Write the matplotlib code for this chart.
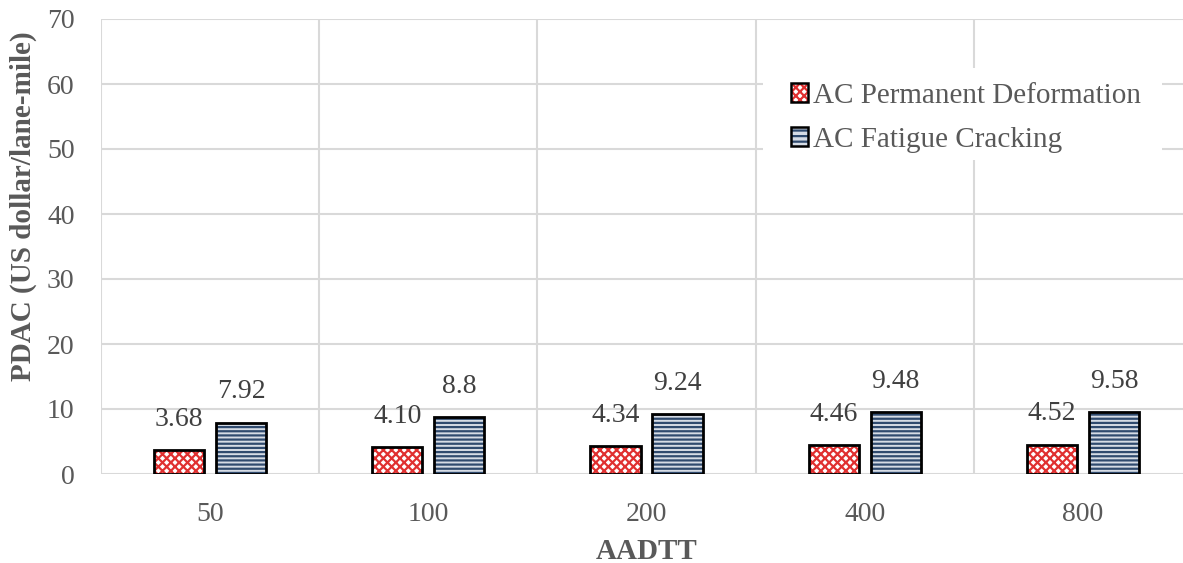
import matplotlib
matplotlib.use("Agg")
import matplotlib.pyplot as plt
import numpy as np
from matplotlib.patches import Rectangle
from matplotlib.legend_handler import HandlerBase

categories = ["50", "100", "200", "400", "800"]
perm_def = [3.68, 4.10, 4.34, 4.46, 4.52]
fatigue = [7.92, 8.8, 9.24, 9.48, 9.58]
perm_labels = ["3.68", "4.10", "4.34", "4.46", "4.52"]
fat_labels = ["7.92", "8.8", "9.24", "9.48", "9.58"]
yticks = [0, 10, 20, 30, 40, 50, 60, 70]
series_names = ['AC Permanent Deformation', 'AC Fatigue Cracking']

plt.rcParams['font.family'] = ['Liberation Serif', 'DejaVu Serif']
plt.rcParams['hatch.linewidth'] = 1.6

fig = plt.figure(figsize=(11.83, 5.63), dpi=100)
ax = fig.add_axes([101/1183, 89/563, 1091/1183, 455/563])

x = np.arange(len(categories))
w = 0.23
off = 0.142
gray = '#595959'
grid = '#d9d9d9'
red_face, red_hatch = 'white', '#e03030'
blue_face, blue_hatch = '#d6dce5', '#2f4a6e'

ax.bar(x - off, perm_def, w, color=red_face, edgecolor=red_hatch, hatch='xxxx', linewidth=0, zorder=3)
ax.bar(x - off, perm_def, w, fill=False, edgecolor='black', linewidth=2, zorder=4)
ax.bar(x + off, fatigue, w, color=blue_face, edgecolor=blue_hatch, hatch='----', linewidth=0, zorder=3)
ax.bar(x + off, fatigue, w, fill=False, edgecolor='black', linewidth=2, zorder=4)

for xi, v, s in zip(x, perm_def, perm_labels):
    ax.text(xi - off, v + 2.8, s, ha='center', va='bottom', fontsize=20, color='#404040', zorder=5)
for xi, v, s in zip(x, fatigue, fat_labels):
    ax.text(xi + off, v + 2.8, s, ha='center', va='bottom', fontsize=20, color='#404040', zorder=5)

ax.set_xlim(-0.5, len(categories) - 0.5)
ax.set_ylim(0, 70)
ax.set_yticks(yticks)
ax.set_yticklabels([str(t) for t in yticks])
ax.set_xticks(x)
ax.set_xticklabels(categories)
ax.tick_params(axis='both', length=0, labelsize=20, labelcolor=gray)
ax.tick_params(axis='y', pad=19)
ax.tick_params(axis='x', pad=20)

for t in yticks[1:]:
    ax.axhline(t, color=grid, lw=1.5, zorder=1)
for b in np.arange(-0.5, len(categories) + 0.5, 1.0):
    ax.axvline(b, color=grid, lw=1.5, zorder=1)
for sp in ax.spines.values():
    sp.set_visible(False)
ax.axhline(0, color=grid, lw=1.5, zorder=2)

ax.set_ylabel('PDAC (US dollar/lane-mile)', fontsize=21, fontweight='bold', color=gray)
ax.yaxis.set_label_coords(-0.0587, 0.589)
ax.set_xlabel('AADTT', fontsize=21, fontweight='bold', color=gray, labelpad=8)

# white legend background
ax.add_patch(Rectangle((0.607, 0.690), 0.3655, 0.202, transform=ax.transAxes,
                       facecolor='white', edgecolor='none', zorder=1.5))


class HatchHandler(HandlerBase):
    def __init__(self, face, hcol, hatch):
        super().__init__()
        self.face, self.hcol, self.hatch = face, hcol, hatch

    def create_artists(self, legend, orig_handle, xdescent, ydescent, width, height, fontsize, trans):
        r1 = Rectangle((-xdescent, -ydescent), width, height, facecolor=self.face,
                       edgecolor=self.hcol, hatch=self.hatch, linewidth=0, transform=trans)
        r2 = Rectangle((-xdescent, -ydescent), width, height, fill=False,
                       edgecolor='black', linewidth=1.8, transform=trans)
        return [r1, r2]


h1 = Rectangle((0, 0), 1, 1)
h2 = Rectangle((0, 0), 1, 1)
leg = ax.legend([h1, h2], series_names,
                handler_map={h1: HatchHandler(red_face, red_hatch, 'xxxx'),
                             h2: HatchHandler(blue_face, blue_hatch, '---')},
                loc='upper left', bbox_to_anchor=(0.632, 0.860), frameon=False, fontsize=21,
                handlelength=0.6, handleheight=0.6, handletextpad=0.17, labelspacing=0.62,
                borderpad=0, borderaxespad=0)
leg.set_zorder(6)
for t in leg.get_texts():
    t.set_color(gray)

fig.savefig('out.png', dpi=100)
